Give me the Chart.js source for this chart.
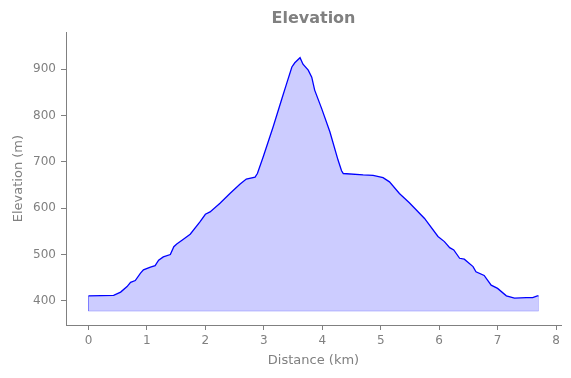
<!DOCTYPE html>
<html>
<head>
<meta charset="utf-8">
<script src="https://cdn.jsdelivr.net/npm/chart.js@4"></script>
<style>
  html, body { margin: 0; padding: 0; background: #fff; }
  #wrap { width: 571px; height: 378px; }
</style>
</head>
<body>
<div id="wrap"><canvas id="myChart" width="571" height="378"></canvas></div>
<script>
// profile
const distanceKm = [0.00, 0.43, 0.55, 0.66, 0.72, 0.80, 0.89, 0.94, 1.06, 1.14, 1.20, 1.28, 1.40, 1.46, 1.51, 1.60,
  1.74, 1.91, 2.00, 2.08, 2.25, 2.42, 2.59, 2.70, 2.85, 2.89, 2.99, 3.16, 3.31, 3.39, 3.48, 3.53, 3.62, 3.67,
  3.76, 3.82, 3.87, 3.99, 4.13, 4.27, 4.33, 4.36, 4.70, 4.87, 5.04, 5.15, 5.32, 5.49, 5.75, 5.98, 6.09, 6.18,
  6.25, 6.35, 6.43, 6.58, 6.63, 6.77, 6.89, 7.00, 7.15, 7.29, 7.49, 7.60, 7.68, 7.70];
const elevationM = [411, 412, 419, 431, 440, 444, 460, 467, 473, 476, 488, 495, 500, 517, 523, 531,
  544, 571, 587, 592, 611, 632, 652, 663, 667, 675, 711, 776, 837, 869, 905, 914, 925, 911,
  898, 883, 855, 815, 765, 704, 681, 675, 672, 671, 666, 657, 632, 612, 578, 539, 528, 515,
  510, 492, 490, 474, 463, 455, 434, 427, 411, 406, 407, 407, 411, 411];
const fillBase = 378;
const xTicks = [0, 1, 2, 3, 4, 5, 6, 7, 8];
const yTicks = [400, 500, 600, 700, 800, 900];

const grey = '#808080';
const font = { family: 'DejaVu Sans', size: 12 };
const labelFont = { family: 'DejaVu Sans', size: 13 };

const profile = distanceKm.map((d, i) => ({ x: d, y: elevationM[i] }));
const first = profile[0], last = profile[profile.length - 1];
const outline = [
  { x: first.x, y: first.y }, { x: first.x, y: fillBase },
  { x: last.x, y: fillBase }, { x: last.x, y: last.y }
];

const ctx = document.getElementById('myChart');
new Chart(ctx, {
  type: 'line',
  data: {
    datasets: [{
      data: profile,
      borderColor: '#0000ff',
      borderWidth: 1.3,
      pointRadius: 0,
      tension: 0,
      fill: { value: fillBase },
      backgroundColor: 'rgba(0, 0, 255, 0.2)',
      order: 1
    }, {
      data: outline,
      borderColor: 'rgba(0, 0, 255, 0.2)',
      borderWidth: 1,
      pointRadius: 0,
      fill: false,
      order: 2
    }]
  },
  options: {
    responsive: false,
    animation: false,
    layout: { padding: { left: 0, right: 10, top: 0, bottom: 0 } },
    plugins: {
      legend: { display: false },
      tooltip: { enabled: false },
      title: {
        display: true,
        fullSize: false,
        text: 'Elevation',
        color: grey,
        font: { family: 'DejaVu Sans', size: 16, weight: 'bold' },
        padding: { top: 9, bottom: 4 }
      }
    },
    scales: {
      x: {
        type: 'linear',
        min: -0.385,
        max: 8.085,
        afterBuildTicks: s => { s.ticks = xTicks.map(v => ({ value: v })); },
        afterFit: s => { s.height = 53; },
        border: { display: true, color: grey, width: 1 },
        grid: { drawOnChartArea: false, drawTicks: true, tickLength: 5, color: grey },
        ticks: { color: grey, font: font, padding: 4, maxRotation: 0 },
        title: { display: true, text: 'Distance (km)', color: grey, font: labelFont, padding: { top: 4, bottom: 10 } }
      },
      y: {
        min: 348,
        max: 980,
        afterBuildTicks: s => { s.ticks = yTicks.map(v => ({ value: v })); },
        afterFit: s => { s.width = 66; },
        border: { display: true, color: grey, width: 1 },
        grid: { drawOnChartArea: false, drawTicks: true, tickLength: 5, color: grey },
        ticks: { color: grey, font: font, padding: 5 },
        title: { display: true, text: 'Elevation (m)', color: grey, font: labelFont, padding: { top: 11, bottom: 4 } }
      }
    }
  }
});
</script>
</body>
</html>
